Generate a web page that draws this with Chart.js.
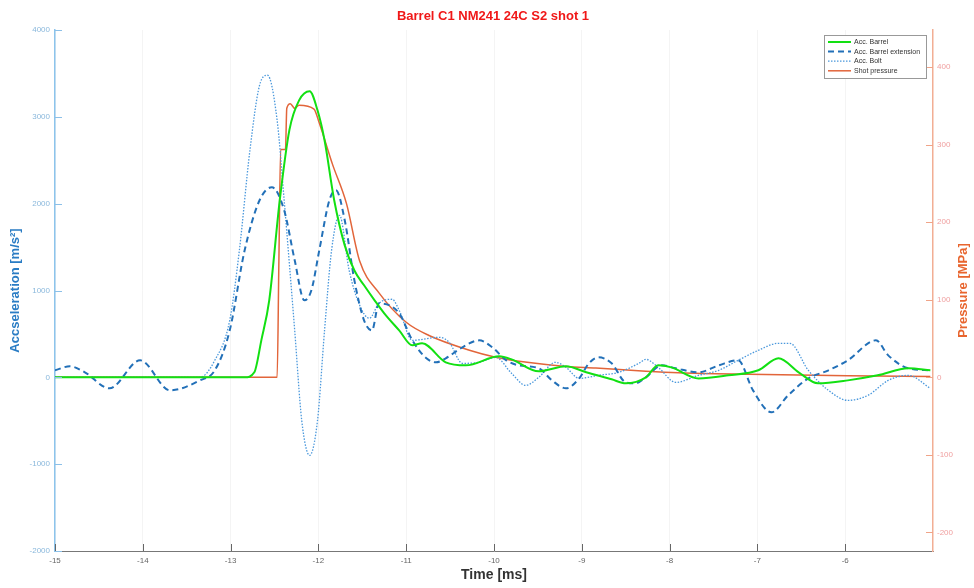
<!DOCTYPE html>
<html>
<head>
<meta charset="utf-8">
<title>Barrel C1 NM241 24C S2 shot 1</title>
<script src="https://cdn.jsdelivr.net/npm/chart.js@4.4.1/dist/chart.umd.min.js"></script>
<style>
  body { margin: 0; background: #fff; }
  #wrap { width: 974px; height: 588px; }
</style>
</head>
<body>
<div id="wrap"><canvas id="shotChart" width="974" height="588"></canvas></div>
<script>
// time axis [ms] and the four traces
const barrelT = [-15, -12.84, -12.73, -12.65, -12.56, -12.44, -12.33, -12.22, -12.10, -12.01, -11.93, -11.82, -11.70, -11.59, -11.48, -11.36, -11.25, -11.08, -10.93, -10.82, -10.55, -10.32, -9.94, -9.80, -9.49, -9.18, -8.95, -8.66, -8.50, -8.27, -8.13, -7.98, -7.67, -7.33, -6.99, -6.76, -6.53, -6.31, -5.97, -5.63, -5.28, -5.03];
const barrelAcc = [0, 0, 58, 426, 887, 2040, 2850, 3190, 3295, 3075, 2730, 2040, 1520, 1230, 1060, 887, 737, 541, 369, 392, 173, 138, 242, 207, 69, 127, 58, -23, -69, 0, 138, 115, -12, 23, 81, 219, 58, -69, -35, 23, 104, 81];

const extT = [-15, -14.83, -14.66, -14.38, -14.03, -13.69, -13.35, -13.18, -13.01, -12.84, -12.67, -12.53, -12.39, -12.27, -12.16, -12.08, -11.99, -11.875, -11.80, -11.70, -11.59, -11.48, -11.39, -11.31, -11.08, -10.93, -10.77, -10.66, -10.55, -10.36, -10.17, -10.02, -9.86, -9.72, -9.49, -9.34, -9.18, -9.03, -8.92, -8.81, -8.66, -8.50, -8.39, -8.27, -8.09, -7.93, -7.67, -7.44, -7.22, -7.05, -6.84, -6.65, -6.42, -6.19, -5.97, -5.65, -5.51, -5.28, -5.03];
const extAcc = [81, 127, 58, -127, 196, -150, -35, 81, 541, 1463, 2039, 2189, 1924, 1348, 887, 1002, 1463, 2039, 2154, 1809, 1117, 657, 541, 852, 737, 426, 219, 173, 219, 346, 426, 346, 196, 138, 104, -35, -127, -12, 161, 230, 161, -58, -69, 0, 138, 104, 58, 138, 196, -150, -403, -207, -12, 81, 196, 426, 253, 104, 81];

const boltT = [-15, -13.35, -13.18, -13.01, -12.90, -12.78, -12.67, -12.58, -12.47, -12.39, -12.27, -12.19, -12.10, -12.01, -11.93, -11.85, -11.76, -11.65, -11.53, -11.42, -11.31, -11.16, -11.08, -10.93, -10.63, -10.51, -10.36, -10.17, -9.98, -9.80, -9.64, -9.49, -9.30, -9.18, -9.03, -8.81, -8.58, -8.35, -8.27, -8.13, -7.93, -7.67, -7.44, -7.22, -6.99, -6.76, -6.63, -6.42, -6.19, -5.97, -5.74, -5.51, -5.28, -5.03];
const boltAcc = [0, 0, 196, 657, 1463, 2615, 3364, 3479, 2960, 2039, 541, -495, -899, -495, 541, 1463, 1866, 1233, 829, 680, 852, 899, 772, 426, 461, 403, 161, 173, 230, 46, -92, 0, 173, 115, -12, 23, 58, 161, 207, 115, -58, 23, 81, 196, 311, 392, 392, 81, -150, -265, -207, -35, 23, -127];

const pressT = [-15, -12.47, -12.45, -12.43, -12.375, -12.36, -12.32, -12.27, -12.22, -12.05, -11.99, -11.84, -11.68, -11.53, -11.31, -11.00, -10.74, -10.28, -9.98, -9.60, -9.18, -8.84, -8.27, -7.90, -7.10, -5.97, -5.03];
const pressMPa = [0, 0, 150, 294, 294, 347, 353, 347, 351, 346, 328, 275, 224, 150, 109, 71, 54, 35, 26, 19, 14, 12, 8, 6, 4, 2, 1];

const timeTicks = [-15, -14, -13, -12, -11, -10, -9, -8, -7, -6];

function toPoints(xs, ys) {
  return xs.map((x, i) => ({ x: x, y: ys[i] }));
}

// ticks drawn inwards, like the original plot
const innerTicks = {
  id: 'innerTicks',
  afterDraw(chart) {
    const ctx = chart.ctx;
    const a = chart.chartArea;
    const sx = chart.scales.x, yl = chart.scales.yAcc, yr = chart.scales.yPress;
    ctx.save();
    ctx.lineWidth = 1;
    ctx.strokeStyle = '#666';
    sx.ticks.forEach(t => {
      const px = Math.round(sx.getPixelForValue(t.value)) + 0.5;
      ctx.beginPath(); ctx.moveTo(px, a.bottom); ctx.lineTo(px, a.bottom - 7); ctx.stroke();
    });
    ctx.strokeStyle = '#8cc0e8';
    yl.ticks.forEach(t => {
      const py = Math.round(yl.getPixelForValue(t.value)) + 0.5;
      ctx.beginPath(); ctx.moveTo(a.left, py); ctx.lineTo(a.left + 7, py); ctx.stroke();
    });
    ctx.strokeStyle = '#f0a488';
    yr.ticks.forEach(t => {
      const py = Math.round(yr.getPixelForValue(t.value)) + 0.5;
      ctx.beginPath(); ctx.moveTo(a.right, py); ctx.lineTo(a.right - 7, py); ctx.stroke();
    });
    ctx.restore();
  }
};

// title, right axis label (reads bottom-up) and boxed legend
const plotDecor = {
  id: 'plotDecor',
  afterDraw(chart) {
    const ctx = chart.ctx;
    const a = chart.chartArea;
    ctx.save();
    ctx.fillStyle = '#f01818';
    ctx.font = 'bold 13px "Liberation Sans", Arial, sans-serif';
    ctx.textAlign = 'center';
    ctx.textBaseline = 'middle';
    ctx.fillText('Barrel C1 NM241 24C S2 shot 1', 493, 16);

    ctx.save();
    ctx.translate(963, (a.top + a.bottom) / 2);
    ctx.rotate(-Math.PI / 2);
    ctx.fillStyle = '#e8652e';
    ctx.fillText('Pressure [MPa]', 0, 0);
    ctx.restore();

    const bx = 824, by = 35, bw = 102, bh = 43;
    ctx.fillStyle = '#fff';
    ctx.fillRect(bx, by, bw, bh);
    ctx.strokeStyle = '#999';
    ctx.lineWidth = 1;
    ctx.strokeRect(bx + 0.5, by + 0.5, bw, bh);
    ctx.font = '7px "Liberation Sans", Arial, sans-serif';
    ctx.textAlign = 'left';
    chart.data.datasets.forEach((ds, i) => {
      const y = by + 7 + i * 9.6;
      ctx.strokeStyle = ds.borderColor;
      ctx.lineWidth = ds.borderWidth;
      ctx.setLineDash(ds.borderDash || []);
      ctx.beginPath(); ctx.moveTo(bx + 4, y); ctx.lineTo(bx + 27, y); ctx.stroke();
      ctx.setLineDash([]);
      ctx.fillStyle = '#333';
      ctx.fillText(ds.label, bx + 30, y);
    });
    ctx.restore();
  }
};

const plainNum = v => String(v);

const ctx = document.getElementById('shotChart').getContext('2d');
new Chart(ctx, {
  type: 'line',
  data: {
    datasets: [{
      label: 'Acc. Barrel',
      data: toPoints(barrelT, barrelAcc),
      borderColor: '#12e012',
      borderWidth: 2,
      yAxisID: 'yAcc'
    }, {
      label: 'Acc. Barrel extension',
      data: toPoints(extT, extAcc),
      borderColor: '#2270b8',
      borderWidth: 2,
      borderDash: [6, 4],
      yAxisID: 'yAcc'
    }, {
      label: 'Acc. Bolt',
      data: toPoints(boltT, boltAcc),
      borderColor: '#4a98dc',
      borderWidth: 1.3,
      borderDash: [1.5, 1.5],
      yAxisID: 'yAcc'
    }, {
      label: 'Shot pressure',
      data: toPoints(pressT, pressMPa),
      borderColor: '#e2653a',
      borderWidth: 1.5,
      yAxisID: 'yPress'
    }]
  },
  options: {
    responsive: false,
    animation: false,
    devicePixelRatio: 1,
    layout: { padding: { top: 30, left: 0, right: 0, bottom: 0 } },
    elements: {
      point: { radius: 0 },
      line: { cubicInterpolationMode: 'monotone' }
    },
    plugins: {
      legend: { display: false },
      title: { display: false },
      tooltip: { enabled: false }
    },
    scales: {
      x: {
        type: 'linear',
        min: -15,
        max: -5,
        afterFit: s => { s.height = 37; },
        afterBuildTicks: s => { s.ticks = timeTicks.map(v => ({ value: v })); },
        grid: { color: 'rgba(0,0,0,0.045)', drawTicks: false },
        border: { color: '#777', width: 1 },
        ticks: { padding: 5, color: '#666', font: { size: 8, family: 'Arial' }, callback: plainNum },
        title: {
          display: true, text: 'Time [ms]', color: '#333',
          font: { size: 14, weight: 'bold', family: '"Liberation Sans", Arial' },
          padding: { top: 0, bottom: 4 }
        }
      },
      yAcc: {
        position: 'left',
        min: -2000,
        max: 4000,
        afterFit: s => { s.width = 55; },
        grid: { drawOnChartArea: false, drawTicks: false },
        border: { color: '#8cc4ec', width: 1.5 },
        ticks: { stepSize: 1000, padding: 5, color: '#8ab8dc', font: { size: 8, family: 'Arial' }, callback: plainNum },
        title: {
          display: true, text: 'Accseleration [m/s²]', color: '#2a7cc4',
          font: { size: 13, weight: 'bold', family: '"Liberation Sans", Arial' },
          padding: { top: 8, bottom: 0 }
        }
      },
      yPress: {
        position: 'right',
        min: -224,
        max: 448,
        afterFit: s => { s.width = 41; },
        afterBuildTicks: s => { s.ticks = s.ticks.filter(t => t.value % 100 === 0); },
        grid: { drawOnChartArea: false, drawTicks: false },
        border: { color: '#f2ae94', width: 1.5 },
        ticks: { stepSize: 100, padding: 4, color: '#f0a0a0', font: { size: 8, family: 'Arial' }, callback: plainNum }
      }
    }
  },
  plugins: [innerTicks, plotDecor]
});
</script>
</body>
</html>
